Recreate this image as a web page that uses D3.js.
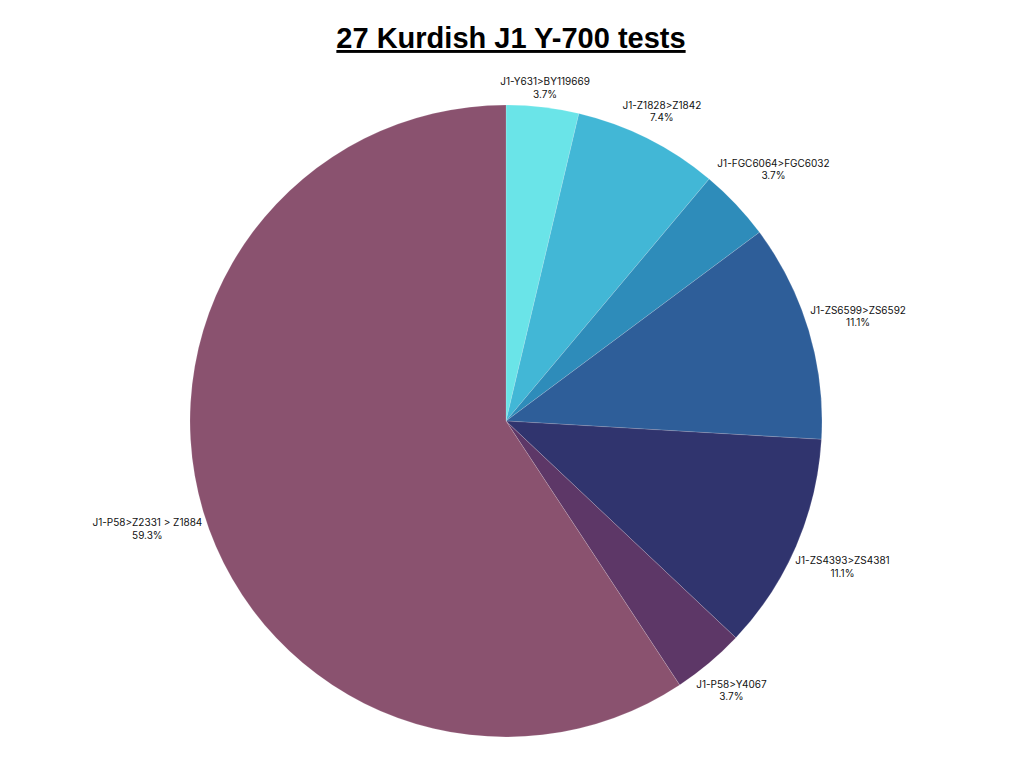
<!DOCTYPE html>
<html>
<head>
<meta charset="utf-8">
<script src="https://cdn.jsdelivr.net/npm/d3@7/dist/d3.min.js"></script>
<style>
  body { margin: 0; background: #fff; }
  svg { display: block; }
</style>
</head>
<body>
<svg id="chart" width="1024" height="768"></svg>
<script>
const labels = ["J1-Y631>BY119669", "J1-Z1828>Z1842", "J1-FGC6064>FGC6032", "J1-ZS6599>ZS6592",
    "J1-ZS4393>ZS4381", "J1-P58>Y4067", "J1-P58>Z2331 > Z1884"]
const counts = [1, 2, 1, 3, 3, 1, 16]
const colors = ["#6ae4e8", "#42b7d6", "#2e8cba", "#2e5e99", "#30346e", "#5d3767", "#8a526f"]

const title = "27 Kurdish J1 Y-700 tests"

let width = 1024,
    height = 768,
    cx = 506,
    cy = 421,
    radius = 316

let data = labels.map((l, i) => ({ label: l, value: counts[i], color: colors[i] }))
let total = d3.sum(counts)

let pie = d3.pie()
    .sort(null)
    .value((d) => d.value)

const arc = d3.arc()
    .outerRadius(radius)
    .innerRadius(0)

let midAngle = (d) => d.startAngle + (d.endAngle - d.startAngle) / 2

const svg = d3.select("#chart")

svg.append("text")
    .attr("x", 511)
    .attr("y", 48)
    .attr("text-anchor", "middle")
    .attr("font-family", "'Liberation Sans', Arial, sans-serif")
    .attr("font-weight", "bold")
    .attr("font-size", 29)
    .attr("text-decoration", "underline")
    .attr("fill", "#000")
    .text(title)

const g = svg.append("g")
    .attr("transform", "translate(" + cx + "," + cy + ")")

g.append("g").attr("class", "slices")
    .selectAll("path")
    .data(pie(data))
    .join("path")
    .attr("d", arc)
    .style("fill", (d) => d.data.color)
    .style("stroke", "#ffffff")
    .style("stroke-opacity", 0.25)
    .style("stroke-width", 0.6)

// labels sit just outside the rim, box pushed out along the mid angle
let fmt = d3.format(".1f")
let lab = g.append("g").attr("class", "label")
    .selectAll("g")
    .data(pie(data))
    .join("g")

lab.each((d, i, e) => {
    let t = d3.select(e[i])
    let text = t.append("text")
        .attr("text-anchor", "middle")
        .attr("font-family", "Inter, 'Noto Sans', sans-serif")
        .attr("font-size", 10)
        .attr("fill", "#111")
    text.append("tspan").attr("x", 0).attr("y", -2).text(d.data.label)
    text.append("tspan").attr("x", 0).attr("y", 10.5).text(fmt(d.data.value / total * 100) + "%")
    let bb = text.node().getBBox()
    let w = bb.width, h = 26
    let a = midAngle(d)
    let ux = Math.sin(a), uy = -Math.cos(a)
    let dist = radius + 2 + Math.abs(ux) * w / 2 + Math.abs(uy) * h / 2
    t.attr("transform", "translate(" + (ux * dist) + "," + (uy * dist) + ")")
})
</script>
</body>
</html>
